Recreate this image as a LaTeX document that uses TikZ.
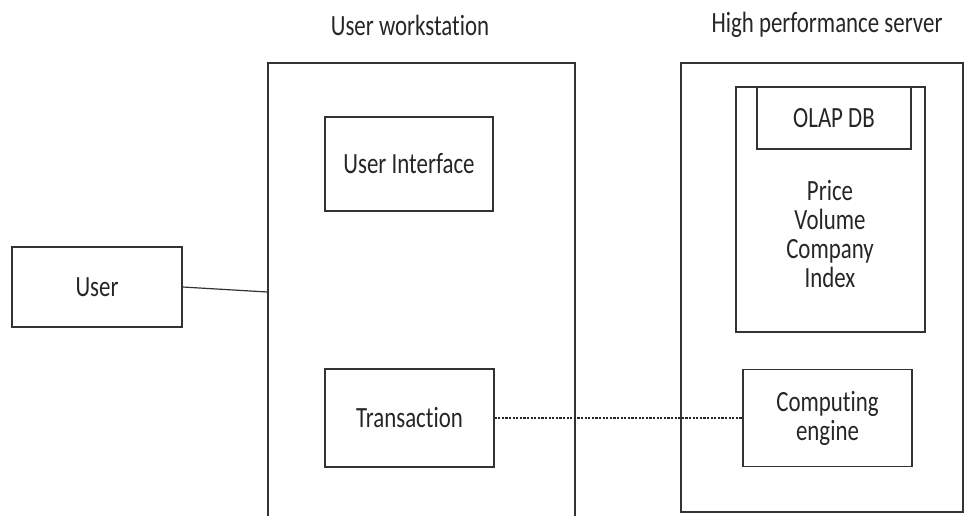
\documentclass[tikz,border=0pt]{standalone}
\usepackage{fontspec}
\setmainfont{Carlito}[FakeStretch=0.78, Ligatures=NoCommon]
\usetikzlibrary{positioning}

\begin{document}
\begin{tikzpicture}[
    x=0.75pt, y=-0.75pt,
    every node/.style={font=\fontsize{22}{21.75}\selectfont, text=black!85},
    box/.style={draw=black!80, line width=0.9pt, inner sep=0pt, align=center},
    frame/.style={draw=black!80, line width=0.9pt, inner sep=0pt},
    link/.style={draw=black!80, line width=0.9pt},
    dotlink/.style={draw=black!85, line width=0.8pt, dash pattern=on 1.6pt off 1.1pt}
]
    \clip (0,0) rectangle (965,515);

    % the two machines
    \node[frame, minimum width=230.25pt, minimum height=343.5pt] (ws) at (421.5,292) {};
    \node[frame, minimum width=211.5pt, minimum height=336.75pt] (srv) at (822,287.5) {};
    \node (wstitle) at (410,25) {User workstation};
    \node (srvtitle) at (827,25) {High performance server};

    % user and workstation parts
    \node[box, minimum width=127.5pt, minimum height=60pt] (user) at (97,287) {User};
    \node[box, minimum width=126pt, minimum height=70.5pt] (ui) at (409,164) {User Interface};
    \node[box, minimum width=126.75pt, minimum height=73.5pt] (trans) at (409.5,418) {Transaction};

    % server parts
    \node[frame, minimum width=141.75pt, minimum height=183.75pt] (db) at (830.5,209.5) {};
    \node[box, minimum width=115.5pt, minimum height=46.5pt] (olap) at (834,118) {OLAP DB};
    \node[align=center] (fields) at (830,234) {Price\\Volume\\Company\\Index};
    \node[box, minimum width=126.75pt, minimum height=72.75pt] (engine) at (827.5,418) {Computing\\engine};

    % connections
    \draw[link] (user.east) -- (ws.west);
    \draw[dotlink] (trans.east) -- (engine.west);
\end{tikzpicture}
\end{document}
